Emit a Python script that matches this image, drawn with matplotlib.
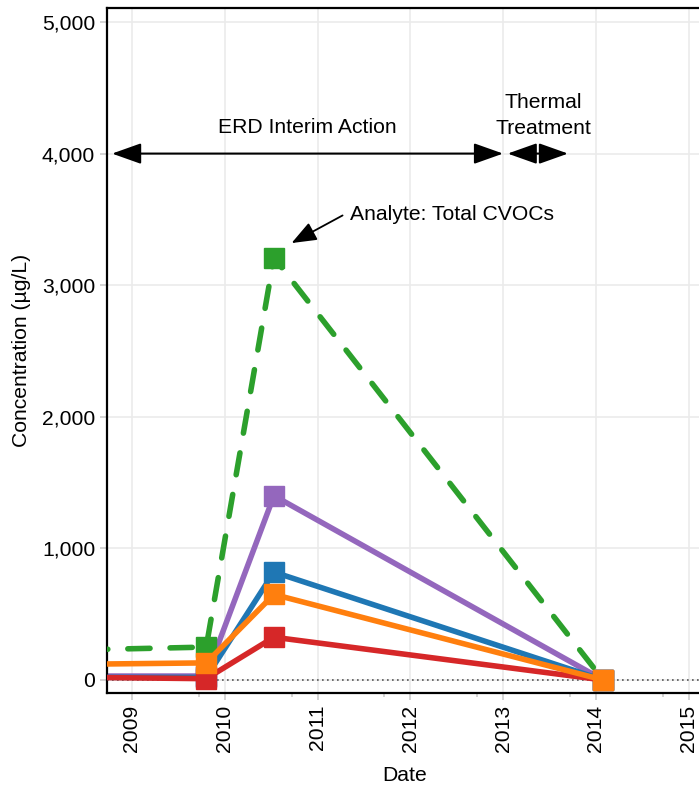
import numpy as np
import matplotlib
matplotlib.use("Agg")
import matplotlib.pyplot as plt
from matplotlib.ticker import FuncFormatter, FixedLocator

plt.rcParams["font.family"] = ["Liberation Sans", "DejaVu Sans"]

# sample dates as decimal years
dates = [2008.5, 2009.8, 2010.53, 2014.08]

# concentrations (ug/L) per analyte
purple_vals = [30, 30, 1400, 0]
blue_vals   = [20, 20, 820, 0]
green_vals  = [230, 250, 3210, 0]
red_vals    = [20, 10, 325, 0]
orange_vals = [120, 130, 650, 0]

year_ticks = [2009, 2010, 2011, 2012, 2013, 2014, 2015]
conc_ticks = [0, 1000, 2000, 3000, 4000, 5000]

fig = plt.figure(figsize=(6.99, 7.85), dpi=100)
ax = fig.add_axes([0.153, 0.117, 0.852, 0.8726])

ax.set_xlim(2008.73, 2015.15)
ax.set_ylim(-100, 5105)

ax.grid(True, color="#ebebeb", lw=1.2, zorder=0)
ax.set_axisbelow(True)
ax.axhline(0, color="#555555", lw=1.2, ls=(0, (1, 2)), zorder=1)

sq = dict(marker="s", markersize=14, markevery=[1, 2, 3], solid_capstyle="butt")
lw = 4.0
ax.plot(dates, purple_vals, color="#9467bd", lw=lw, zorder=2, **sq)
ax.plot(dates, blue_vals, color="#1f77b4", lw=lw, zorder=3, **sq)
ax.plot(dates, green_vals, color="#2ca02c", lw=lw, ls=(0, (4, 3.6)),
        dash_capstyle="round", zorder=4, **sq)
ax.plot(dates, red_vals, color="#d62728", lw=lw, zorder=5, **sq)
ax.plot(dates, orange_vals, color="#ff7f0e", lw=lw, zorder=6, **sq)

# treatment period arrows
head = "<|-|>,head_length=0.9,head_width=0.32"
ax.annotate("", xy=(2013.0, 4000), xytext=(2008.785, 4000),
            arrowprops=dict(arrowstyle=head, mutation_scale=20, lw=1.5,
                            color="black", shrinkA=0, shrinkB=0))
ax.annotate("", xy=(2013.7, 4000), xytext=(2013.05, 4000),
            arrowprops=dict(arrowstyle=head, mutation_scale=20, lw=1.5,
                            color="black", shrinkA=0, shrinkB=0))
ax.text(2010.89, 4195, "ERD Interim Action", ha="center", va="center", fontsize=15.2)
ax.text(2013.43, 4290, "Thermal\nTreatment", ha="center", va="center",
        fontsize=15.2, linespacing=1.45)

ax.text(2011.35, 3540, "Analyte: Total CVOCs", ha="left", va="center", fontsize=15.2)
ax.annotate("", xy=(2010.72, 3320), xytext=(2011.27, 3530),
            arrowprops=dict(arrowstyle="-|>,head_length=0.9,head_width=0.35",
                            mutation_scale=17, lw=1.3, color="black",
                            shrinkA=0, shrinkB=0))

ax.xaxis.set_major_locator(FixedLocator(year_ticks))
ax.xaxis.set_minor_locator(FixedLocator([y + 0.72 for y in range(2008, 2015)]))
ax.yaxis.set_major_locator(FixedLocator(conc_ticks))
ax.xaxis.set_major_formatter(FuncFormatter(lambda v, p: f"{int(v)}"))
ax.yaxis.set_major_formatter(FuncFormatter(lambda v, p: f"{int(v):,}"))

ax.tick_params(axis="both", which="major", length=5, width=1.2, color="#cccccc",
               labelsize=15.2, labelcolor="black")
ax.tick_params(axis="x", which="minor", length=3, width=1.2, color="#cccccc")
ax.tick_params(axis="x", labelrotation=90)

for s in ax.spines.values():
    s.set_linewidth(1.6)
    s.set_color("black")

ax.set_xlabel("Date", fontsize=15.2, labelpad=10)
ax.set_ylabel("Concentration (µg/L)", fontsize=15.2, labelpad=8)

fig.savefig("out.png", dpi=100)
